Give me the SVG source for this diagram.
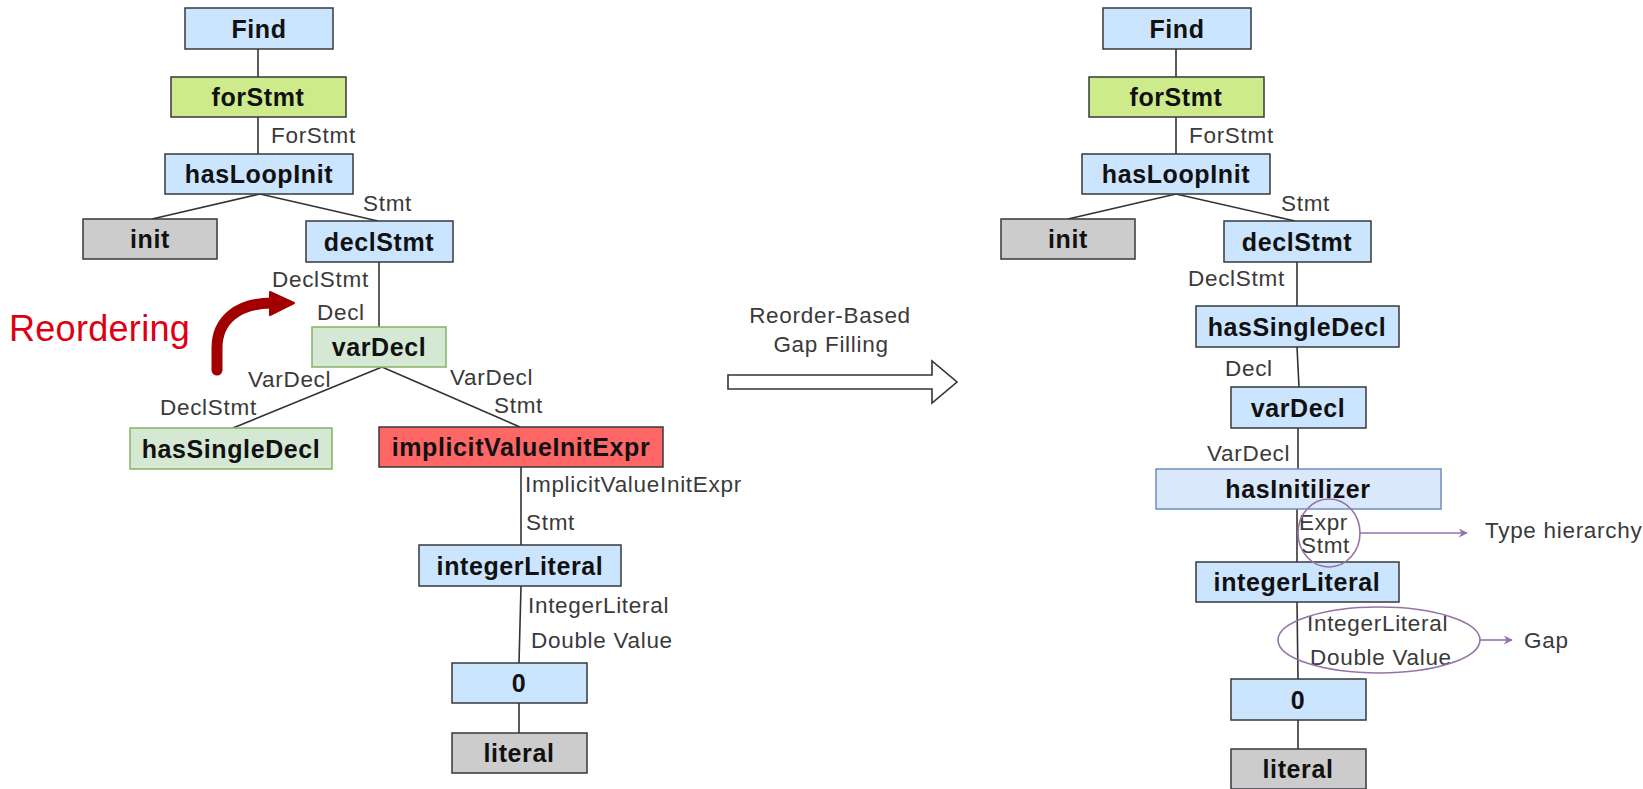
<svg xmlns="http://www.w3.org/2000/svg" width="1643" height="789" viewBox="0 0 1643 789">
  <defs>
    <style>
      .box { stroke: #36393d; stroke-width: 1.5; }
      .blue { fill: #cce5ff; }
      .lime { fill: #cdeb8b; }
      .grey { fill: #cccccc; }
      .red { fill: #ff6666; }
      .sage { fill: #d5e8d4; stroke: #82b366; stroke-width: 1.5; }
      .pale { fill: #dae8fc; stroke: #6c8ebf; stroke-width: 1.5; }
      .name { font-family: "Liberation Sans", Arial, sans-serif; font-weight: bold; font-size: 25px; letter-spacing: 0.6px; fill: #111; text-anchor: middle; }
      .lbl { font-family: "Liberation Sans", Arial, sans-serif; font-size: 22.5px; letter-spacing: 0.7px; fill: #3a3a3a; }
      .edge { stroke: #333; stroke-width: 1.6; fill: none; }
      .mark { stroke: #9673a6; stroke-width: 1.6; fill: none; }
    </style>
    <marker id="purpleHead" viewBox="0 0 10 10" refX="9" refY="5" markerWidth="9" markerHeight="9" markerUnits="userSpaceOnUse" orient="auto">
      <path d="M0,0 L10,5 L0,10 L3,5 Z" fill="#9673a6"/>
    </marker>
  </defs>

  <!-- tree edges -->
  <g id="connectors">
    <!-- left tree -->
    <line class="edge" x1="258" y1="49" x2="258" y2="77"/>
    <line class="edge" x1="258" y1="117" x2="258" y2="154"/>
    <line class="edge" x1="260" y1="194" x2="152" y2="219"/>
    <line class="edge" x1="260" y1="194" x2="378" y2="221"/>
    <line class="edge" x1="379" y1="262" x2="379" y2="327"/>
    <line class="edge" x1="382" y1="367" x2="233" y2="428"/>
    <line class="edge" x1="382" y1="367" x2="520" y2="427"/>
    <line class="edge" x1="521" y1="467" x2="521" y2="545"/>
    <line class="edge" x1="521" y1="586" x2="519" y2="663"/>
    <line class="edge" x1="519" y1="703" x2="519" y2="733"/>
    <!-- right tree -->
    <line class="edge" x1="1176" y1="49" x2="1176" y2="77"/>
    <line class="edge" x1="1176" y1="117" x2="1176" y2="154"/>
    <line class="edge" x1="1176" y1="194" x2="1068" y2="219"/>
    <line class="edge" x1="1176" y1="194" x2="1295" y2="221"/>
    <line class="edge" x1="1297" y1="262" x2="1297" y2="306"/>
    <line class="edge" x1="1297" y1="347" x2="1299" y2="387"/>
    <line class="edge" x1="1298" y1="428" x2="1298" y2="469"/>
    <line class="edge" x1="1297" y1="509" x2="1297" y2="562"/>
    <line class="edge" x1="1297" y1="602" x2="1298" y2="679"/>
    <line class="edge" x1="1298" y1="720" x2="1298" y2="749"/>
  </g>

  <!-- edge labels -->
  <g id="edge-labels" class="lbl">
    <text x="271" y="143">ForStmt</text>
    <text x="363" y="211">Stmt</text>
    <text x="272" y="287">DeclStmt</text>
    <text x="317" y="320">Decl</text>
    <text x="248" y="387">VarDecl</text>
    <text x="160" y="415">DeclStmt</text>
    <text x="450" y="385">VarDecl</text>
    <text x="494" y="413">Stmt</text>
    <text x="525" y="492">ImplicitValueInitExpr</text>
    <text x="526" y="530">Stmt</text>
    <text x="528" y="613">IntegerLiteral</text>
    <text x="531" y="648">Double Value</text>

    <text x="1189" y="143">ForStmt</text>
    <text x="1281" y="211">Stmt</text>
    <text x="1188" y="286">DeclStmt</text>
    <text x="1225" y="376">Decl</text>
    <text x="1207" y="461">VarDecl</text>
    <text x="1307" y="631">IntegerLiteral</text>
    <text x="1310" y="665">Double Value</text>
  </g>

  <!-- left tree nodes -->
  <g id="l-find"><rect class="box blue" x="185" y="8" width="148" height="41"/><text class="name" x="259" y="38">Find</text></g>
  <g id="l-forStmt"><rect class="box lime" x="171" y="77" width="175" height="40"/><text class="name" x="258" y="106">forStmt</text></g>
  <g id="l-hasLoopInit"><rect class="box blue" x="165" y="154" width="188" height="40"/><text class="name" x="259" y="183">hasLoopInit</text></g>
  <g id="l-init"><rect class="box grey" x="83" y="219" width="134" height="40"/><text class="name" x="150" y="248">init</text></g>
  <g id="l-declStmt"><rect class="box blue" x="306" y="221" width="147" height="41"/><text class="name" x="379" y="251">declStmt</text></g>
  <g id="l-varDecl"><rect class="sage" x="312" y="327" width="134" height="40"/><text class="name" x="379" y="356">varDecl</text></g>
  <g id="l-hasSingleDecl"><rect class="sage" x="130" y="428" width="202" height="41"/><text class="name" x="231" y="458">hasSingleDecl</text></g>
  <g id="l-implicitValueInitExpr"><rect class="box red" x="379" y="427" width="284" height="40"/><text class="name" x="521" y="456">implicitValueInitExpr</text></g>
  <g id="l-integerLiteral"><rect class="box blue" x="419" y="545" width="202" height="41"/><text class="name" x="520" y="575">integerLiteral</text></g>
  <g id="l-zero"><rect class="box blue" x="452" y="663" width="135" height="40"/><text class="name" x="519" y="692">0</text></g>
  <g id="l-literal"><rect class="box grey" x="452" y="733" width="135" height="40"/><text class="name" x="519" y="762">literal</text></g>

  <!-- reordering hint -->
  <g id="reordering">
    <text x="9" y="341" font-family="'Liberation Sans', Arial, sans-serif" font-size="36" letter-spacing="0.3" fill="#dd0011">Reordering</text>
    <path d="M217,370 L217,348 C217,320 238,303 272,303" fill="none" stroke="#a20000" stroke-width="11" stroke-linecap="round"/>
    <path d="M270,292 L294,303 L270,315 Z" fill="#a20000" stroke="#a20000" stroke-width="2" stroke-linejoin="round"/>
  </g>

  <!-- transformation step -->
  <g id="transform">
    <text class="lbl" x="830" y="323" text-anchor="middle">Reorder-Based</text>
    <text class="lbl" x="831" y="352" text-anchor="middle">Gap Filling</text>
    <path d="M728,375 L932,375 L932,361 L957,382 L932,403 L932,389 L728,389 Z" fill="#fff" stroke="#333" stroke-width="1.6" stroke-linejoin="miter"/>
  </g>

  <!-- right tree nodes -->
  <g id="r-find"><rect class="box blue" x="1103" y="8" width="148" height="41"/><text class="name" x="1177" y="38">Find</text></g>
  <g id="r-forStmt"><rect class="box lime" x="1089" y="77" width="175" height="40"/><text class="name" x="1176" y="106">forStmt</text></g>
  <g id="r-hasLoopInit"><rect class="box blue" x="1082" y="154" width="188" height="40"/><text class="name" x="1176" y="183">hasLoopInit</text></g>
  <g id="r-init"><rect class="box grey" x="1001" y="219" width="134" height="40"/><text class="name" x="1068" y="248">init</text></g>
  <g id="r-declStmt"><rect class="box blue" x="1224" y="221" width="147" height="41"/><text class="name" x="1297" y="251">declStmt</text></g>
  <g id="r-hasSingleDecl"><rect class="box blue" x="1196" y="306" width="203" height="41"/><text class="name" x="1297" y="336">hasSingleDecl</text></g>
  <g id="r-varDecl"><rect class="box blue" x="1231" y="387" width="135" height="41"/><text class="name" x="1298" y="417">varDecl</text></g>
  <g id="r-hasInitilizer"><rect class="pale" x="1156" y="469" width="285" height="40"/><text class="name" x="1298" y="498">hasInitilizer</text></g>
  <g id="r-integerLiteral"><rect class="box blue" x="1196" y="562" width="203" height="40"/><text class="name" x="1297" y="591">integerLiteral</text></g>
  <g id="r-zero"><rect class="box blue" x="1231" y="679" width="135" height="41"/><text class="name" x="1298" y="709">0</text></g>
  <g id="r-literal"><rect class="box grey" x="1231" y="749" width="135" height="40"/><text class="name" x="1298" y="778">literal</text></g>

  <!-- annotations on the filled chain -->
  <g id="type-hierarchy">
    <text class="lbl" x="1299" y="530" font-size="21.5">Expr</text>
    <text class="lbl" x="1301" y="553" font-size="21.5">Stmt</text>
    <ellipse class="mark" cx="1329" cy="533" rx="31" ry="34"/>
    <line class="mark" x1="1360" y1="533" x2="1467" y2="533" marker-end="url(#purpleHead)"/>
    <text class="lbl" x="1485" y="538">Type hierarchy</text>
  </g>
  <g id="gap">
    <ellipse class="mark" cx="1379" cy="640" rx="101" ry="33"/>
    <line class="mark" x1="1480" y1="640" x2="1512" y2="640" marker-end="url(#purpleHead)"/>
    <text class="lbl" x="1524" y="648">Gap</text>
  </g>
</svg>
